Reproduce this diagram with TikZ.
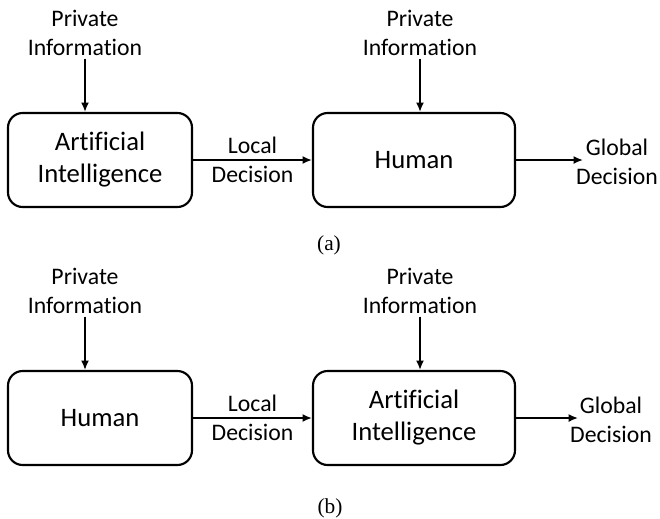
\documentclass[tikz,border=0pt]{standalone}
\usepackage{fontspec}
\setmainfont{Carlito}[Ligatures=CommonOff]
\newfontfamily\capfont{Liberation Serif}
\usetikzlibrary{arrows.meta}
\begin{document}
\begin{tikzpicture}[x=0.75pt,y=-0.75pt,
		blk/.style={draw,line width=1.6pt,rounded corners=11pt,align=center,inner sep=0pt,
			minimum height=94*0.75pt,font=\fontsize{20}{24}\selectfont},
		lbl/.style={align=center,inner sep=2pt,font=\fontsize{17.8}{21.7}\selectfont},
		captxt/.style={inner sep=0pt,font=\capfont\fontsize{16}{18}\selectfont},
		arr/.style={-{Latex[length=7pt,width=6pt]},line width=1.3pt}]
	\useasboundingbox (0,0) rectangle (660,518);
	% panel (a)
	\coordinate (p0) at (100,160);
	\coordinate (p1) at (414,160);
	\coordinate (g0) at (583,160);
	%
	\node[blk,minimum width=184*0.75pt] (ai0) at (p0) {Artificial\\Intelligence};
	\node[blk,minimum width=202*0.75pt] (hu0) at (p1) {Human};
	\node[lbl] (pa0) at (85,33) {Private\\Information};
	\node[lbl] (pb0) at (420,33) {Private\\Information};
	\node[lbl] (gd0) at (617,162) {Global\\Decision};
	\node[captxt] (ca) at (329,245) {(a)};
	%
	\draw[arr] (pa0.south) -- (pa0.south |- ai0.north);
	\draw[arr] (pb0.south) -- (pb0.south |- hu0.north);
	\draw[arr] (ai0) -- node[lbl] (ld0) {Local\\Decision} (hu0);
	\draw[arr] (hu0.east) -- (g0);
	% panel (b)
	\coordinate (p2) at (100,418);
	\coordinate (p3) at (414,418);
	\coordinate (g1) at (578,418);
	%
	\node[blk,minimum width=184*0.75pt] (hu1) at (p2) {Human};
	\node[blk,minimum width=202*0.75pt] (ai1) at (p3) {Artificial\\Intelligence};
	\node[lbl] (pa1) at (85,291) {Private\\Information};
	\node[lbl] (pb1) at (420,291) {Private\\Information};
	\node[lbl] (gd1) at (611,420) {Global\\Decision};
	\node[captxt] (cb) at (330,508) {(b)};
	%
	\draw[arr] (pa1.south) -- (pa1.south |- hu1.north);
	\draw[arr] (pb1.south) -- (pb1.south |- ai1.north);
	\draw[arr] (hu1) -- node[lbl] (ld1) {Local\\Decision} (ai1);
	\draw[arr] (ai1.east) -- (g1);
\end{tikzpicture}
\end{document}
